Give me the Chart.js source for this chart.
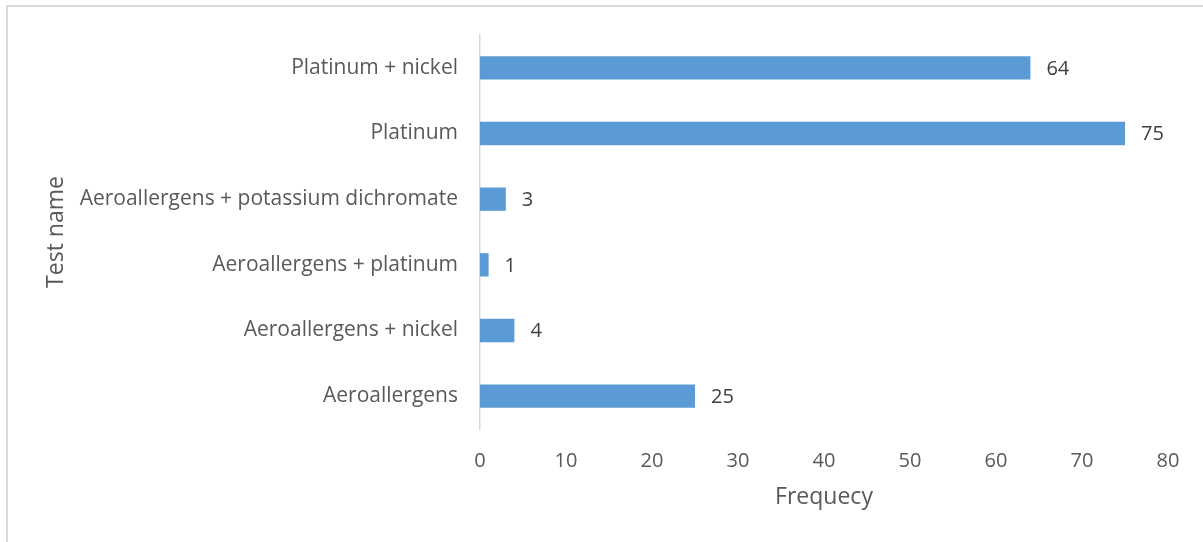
<!DOCTYPE html>
<html>
<head>
<meta charset="utf-8">
<script src="https://cdn.jsdelivr.net/npm/chart.js@4/dist/chart.umd.min.js"></script>
<style>
    html, body { margin: 0; padding: 0; background: #fff; }
    #wrap { position: relative; width: 1203px; height: 542px; overflow: hidden; }
    #frame { position: absolute; left: 6px; top: 5px; width: 1210px; height: 560px;
             border-left: 2px solid #d9d9d9; border-top: 2px solid #d9d9d9; }
    canvas { position: absolute; left: 0; top: 0; }
</style>
</head>
<body>
<div id="wrap">
    <div id="frame"></div>
    <canvas id="graficoTestes" width="1203" height="542"></canvas>
</div>
<script>
// Testes e frequências (de cima para baixo)
const testes = [
    "Platinum + nickel",
    "Platinum",
    "Aeroallergens + potassium dichromate",
    "Aeroallergens + platinum",
    "Aeroallergens + nickel",
    "Aeroallergens"
];
const frequencias = [64, 75, 3, 1, 4, 25];
const ticksX = [0, 10, 20, 30, 40, 50, 60, 70, 80];

const FONTE = "Open Sans";
const corTexto = "#595959";

// Escreve o valor ao lado de cada barra
const rotulosValor = {
    id: "rotulosValor",
    afterDatasetsDraw(chart) {
        const ctx = chart.ctx;
        const meta = chart.getDatasetMeta(0);
        ctx.save();
        ctx.font = "20px " + FONTE;
        ctx.fillStyle = "#404040";
        ctx.textAlign = "left";
        ctx.textBaseline = "middle";
        meta.data.forEach((barra, i) => {
            ctx.fillText(String(frequencias[i]), barra.x + 16, barra.y + 1);
        });
        ctx.restore();
    }
};

document.addEventListener("DOMContentLoaded", () => {
    const ctx = document.getElementById("graficoTestes").getContext("2d");

    new Chart(ctx, {
        type: "bar",
        data: {
            labels: testes,
            datasets: [{
                label: "Frequecy",
                data: frequencias,
                backgroundColor: "#5b9bd5",
                borderWidth: 0,
                categoryPercentage: 1,
                barPercentage: 0.355
            }]
        },
        options: {
            indexAxis: "y",
            responsive: false,
            animation: false,
            layout: { padding: { top: 35, right: 35, left: 0, bottom: 0 } },
            plugins: {
                legend: { display: false },
                tooltip: { enabled: false }
            },
            scales: {
                x: {
                    min: 0,
                    max: 80,
                    afterBuildTicks: scale => {
                        scale.ticks = ticksX.map(v => ({ value: v }));
                    },
                    grid: { display: false, drawTicks: false },
                    border: { display: false },
                    ticks: {
                        padding: 20,
                        color: corTexto,
                        font: { family: FONTE, size: 20 }
                    },
                    title: {
                        display: true,
                        text: "Frequecy",
                        color: corTexto,
                        font: { family: FONTE, size: 23 },
                        padding: { top: 0, bottom: 31 }
                    },
                    afterFit: scale => { scale.height = 542 - 429; }
                },
                y: {
                    grid: { display: false, drawTicks: false },
                    border: { display: true, color: "#d9d9d9", width: 1.5 },
                    ticks: {
                        padding: 22,
                        color: corTexto,
                        font: { family: FONTE, size: 21 }
                    },
                    title: {
                        display: true,
                        text: "Test name",
                        color: corTexto,
                        font: { family: FONTE, size: 23 },
                        padding: { top: 43, bottom: 0 }
                    },
                    afterFit: scale => { scale.width = 480; }
                }
            }
        },
        plugins: [rotulosValor]
    });
});
</script>
</body>
</html>
